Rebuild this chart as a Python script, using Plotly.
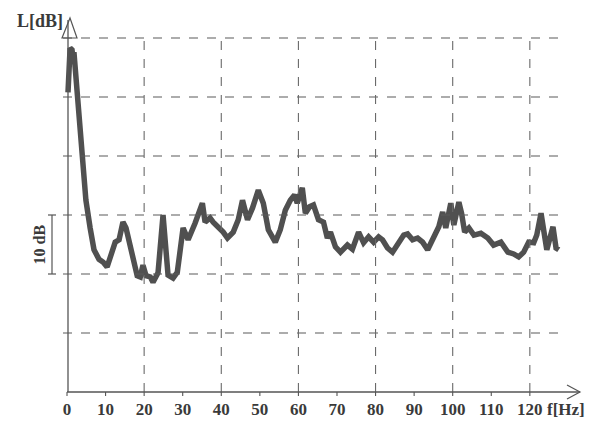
import plotly.graph_objects as go

# ---- data ----
freq_hz = [0.26, 0.5, 0.8, 1.3, 1.6, 1.8, 2.3, 3.1, 3.9, 4.9, 6.0, 7.0, 8.3, 9.4, 10.4, 11.4, 12.5, 13.5,
           14.5, 15.3, 16.4, 17.4, 18.2, 19.0, 19.7, 20.5, 21.6, 22.3, 23.6, 24.9, 26.2, 27.5, 28.6, 30.1,
           31.4, 33.2, 35.1, 35.8, 37.1, 37.9, 39.2, 40.5, 41.6, 43.1, 44.4, 45.5, 46.8, 48.1, 49.6, 50.9,
           52.2, 54.0, 55.3, 56.6, 57.9, 59.0, 59.7, 61.0, 61.8, 62.9, 63.9, 65.2, 66.5, 67.5, 68.3, 69.6,
           70.9, 72.7, 74.0, 75.6, 76.9, 78.2, 79.5, 80.8, 81.8, 83.1, 84.4, 86.0, 87.3, 88.3, 89.6, 90.9,
           92.2, 93.5, 94.8, 96.4, 97.4, 98.2, 99.5, 100.3, 101.6, 102.3, 103.1, 104.2, 105.5, 107.3, 109.1,
           110.6, 112.5, 114.3, 115.8, 117.1, 118.4, 119.7, 121.0, 121.8, 122.9, 123.6, 124.4, 126.0, 126.8,
           127.5]
level_db = [50.8, 57.1, 58.3, 58.0, 56.3, 57.6, 53.7, 46.1, 39.3, 32.5, 27.8, 24.1, 22.5, 22.0, 21.2, 23.2,
            25.4, 25.8, 28.8, 27.8, 24.4, 22.0, 19.7, 19.5, 21.5, 19.7, 19.5, 18.6, 20.2, 30.0, 19.8, 19.3,
            20.3, 27.8, 25.8, 28.6, 32.0, 28.8, 29.5, 28.8, 28.0, 27.1, 26.1, 27.1, 29.2, 32.5, 29.2, 31.2,
            34.2, 32.0, 27.5, 25.4, 27.5, 30.8, 32.5, 33.4, 32.0, 34.6, 30.3, 31.4, 31.7, 29.2, 28.8, 26.1,
            27.1, 24.6, 23.7, 24.9, 24.2, 27.1, 25.3, 26.3, 25.4, 26.3, 25.8, 24.4, 23.7, 25.1, 26.6, 26.8,
            25.8, 26.1, 25.4, 24.1, 26.1, 28.0, 30.5, 27.8, 32.0, 28.3, 32.2, 30.3, 27.1, 27.8, 26.6, 26.9,
            26.1, 24.9, 25.4, 23.7, 23.4, 22.9, 23.7, 25.4, 25.3, 26.6, 30.3, 27.5, 24.1, 28.0, 24.4, 24.1]
x_tick_vals = [0, 10, 20, 30, 40, 50, 60, 70, 80, 90, 100, 110, 120]
x_tick_text = ["0", "10", "20", "30", "40", "50", "60", "70", "80", "90", "100", "110", "120"]
grid_levels = [10, 20, 30, 40, 50, 60]
grid_freqs = [20, 40, 60, 80, 100, 120]

# ---- layout geometry (reference pixel frame; page body has an 8px margin) ----
OFF = 8
W, H = 597 - 2 * OFF, 430 - 2 * OFF
X0PX, Y0PX = 67.0, 392.0          # axis origin in reference (window) pixels
SX, SY = 3.857, 5.9               # px per Hz, px per dB


def fx(px):
    return (px - X0PX) / SX


def fy(py):
    return (Y0PX - py) / SY


x_range = [fx(OFF), fx(OFF + W)]
y_range = [fy(OFF + H), fy(OFF)]

INK = "#505050"
GRID = "#5a5a5a"
AX = "#555555"

fig = go.Figure()
fig.add_trace(go.Scatter(x=freq_hz, y=level_db, mode="lines",
                         line=dict(color=INK, width=5.5), hoverinfo="skip"))

shapes = []
for lv in grid_levels:
    shapes.append(dict(type="line", xref="x", yref="y", x0=fx(63), x1=fx(560), y0=lv, y1=lv,
                       line=dict(color=GRID, width=1.1, dash="dash")))
for fq in grid_freqs:
    shapes.append(dict(type="line", xref="x", yref="y", x0=fq, x1=fq, y0=0, y1=60,
                       line=dict(color="#6a6a6a", width=1.1, dash="dash")))
# axes
shapes.append(dict(type="line", xref="x", yref="y", x0=0, x1=fx(580), y0=0, y1=0,
                   line=dict(color=AX, width=1.3)))
shapes.append(dict(type="line", xref="x", yref="y", x0=fx(68), x1=fx(68), y0=0, y1=fy(20),
                   line=dict(color=AX, width=1.3)))
# tick marks below the axis
for tv in x_tick_vals:
    shapes.append(dict(type="line", xref="x", yref="y", x0=tv, x1=tv, y0=0, y1=fy(396),
                       line=dict(color=AX, width=1.1)))
# x arrowhead (open chevron)
shapes.append(dict(type="path", xref="x", yref="y",
                   path=f"M {fx(567)} {fy(385)} L {fx(580)} 0 L {fx(567)} {fy(399)}",
                   line=dict(color=AX, width=1.2)))
# y arrowhead (open triangle)
shapes.append(dict(type="path", xref="x", yref="y",
                   path=f"M {fx(62)} {fy(38)} L {fx(70)} {fy(18)} L {fx(77)} {fy(38)} Z",
                   line=dict(color=AX, width=1.2), fillcolor="rgba(0,0,0,0)"))
# 10 dB bracket
bx = fx(52)
shapes.append(dict(type="line", xref="x", yref="y", x0=bx, x1=bx, y0=20, y1=30,
                   line=dict(color=AX, width=1.2)))
for lv in (20, 30):
    shapes.append(dict(type="line", xref="x", yref="y", x0=fx(48), x1=fx(56), y0=lv, y1=lv,
                       line=dict(color=AX, width=1.2)))

serif = "Liberation Serif"
TXT = "#3a3a3a"
annotations = [
    dict(x=fx(40), y=fy(21), xref="x", yref="y", text="L[dB]", showarrow=False,
         font=dict(family=serif, size=18, color=TXT, weight="bold")),
    dict(x=fx(566), y=fy(409), xref="x", yref="y", text="f[Hz]", showarrow=False,
         font=dict(family=serif, size=17, color=TXT, weight="bold")),
    dict(x=fx(39), y=25, xref="x", yref="y", text="10 dB", showarrow=False, textangle=-90,
         font=dict(family=serif, size=16, color=TXT, weight="bold")),
]

fig.update_layout(
    width=W, height=H, autosize=False,
    margin=dict(l=0, r=0, t=0, b=0),
    paper_bgcolor="white", plot_bgcolor="white",
    showlegend=False,
    shapes=shapes, annotations=annotations,
    xaxis=dict(range=x_range, anchor="free", position=(OFF + H - Y0PX) / H,
               tickvals=x_tick_vals, ticktext=x_tick_text, ticklabelstandoff=5,
               ticks="", showgrid=False, zeroline=False, showline=False, automargin=False,
               tickfont=dict(family=serif, size=17, color=TXT, weight="bold")),
    yaxis=dict(range=y_range, showticklabels=False, showgrid=False, zeroline=False,
               showline=False, ticks="", automargin=False),
)

fig.write_html("out.html")
